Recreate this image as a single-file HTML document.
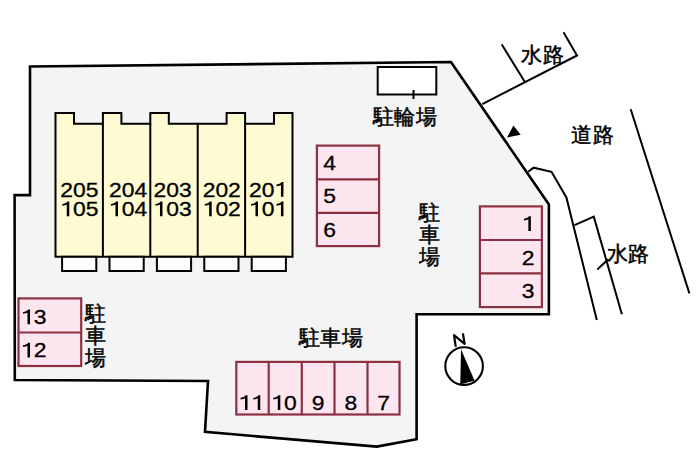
<!DOCTYPE html>
<html><head><meta charset="utf-8">
<style>
html,body{margin:0;padding:0;background:#fff;width:700px;height:466px;overflow:hidden}
svg{display:block}
text{font-family:"Liberation Sans",sans-serif;fill:#000}
.jp{font-size:21px;stroke:#000;stroke-width:0.5}
.n{font-size:21px;stroke:#000;stroke-width:0.3}
.one{fill:#000}
.pk{fill:#fde6f0;stroke:#8c3044;stroke-width:2.2}
.ln{stroke:#000;stroke-width:2;fill:none}
</style></head><body>
<svg width="700" height="466" viewBox="0 0 700 466">
<rect width="700" height="466" fill="#fff"/>
<polygon points="30,66.5 451,62 548.9,204.5 548.9,314.3 416.6,314.3 416.6,439.2 376.8,446.6 205,431.9 208,381 14.8,380 14.6,195.1 30,195.1" fill="#f4f4f4" stroke="#000" stroke-width="2.6" stroke-linejoin="miter"/>
<polyline class="ln" points="482.3,104.2 577,55.5 563.5,32.3"/>
<line class="ln" x1="501.7" y1="44.3" x2="524.9" y2="82"/>
<line class="ln" x1="630.7" y1="109.3" x2="689.4" y2="293.4"/>
<polyline class="ln" points="528.1,171.8 533.6,167.7 551.5,171.8 566.4,197.5 596.8,319.9"/>
<polyline class="ln" points="574.5,225.1 593.8,216.7 621.9,314.3"/>
<line class="ln" x1="597.3" y1="269.4" x2="608.2" y2="259.2" stroke-width="1.8"/>
<polygon points="513.4,125.5 507,137.5 520.7,134.7" fill="#000"/>
<rect x="377.7" y="67" width="58.6" height="27.5" style="fill:#fff;stroke:#000;stroke-width:2"/>
<line class="ln" x1="413.5" y1="90" x2="413.5" y2="99" stroke-width="1.5"/>
<path d="M55.5,256.8 V113 H74 V123.7 H102.9 V113 H121.4 V123.7 H150.3 V113 H168.8 V123.7 H197.7 H226.6 V113 H245.1 V123.7 H274 V113 H292.5 V256.8 Z" fill="#fefad2" stroke="#000" stroke-width="2"/>
<line x1="102.9" y1="123.7" x2="102.9" y2="256.8" stroke="#000" stroke-width="2"/>
<line x1="150.3" y1="123.7" x2="150.3" y2="256.8" stroke="#000" stroke-width="2"/>
<line x1="197.7" y1="123.7" x2="197.7" y2="256.8" stroke="#000" stroke-width="2"/>
<line x1="245.1" y1="123.7" x2="245.1" y2="256.8" stroke="#000" stroke-width="2"/>
<rect x="62.1" y="256.8" width="34.2" height="14.2" fill="#fff" stroke="#000" stroke-width="2"/>
<rect x="109.5" y="256.8" width="34.2" height="14.2" fill="#fff" stroke="#000" stroke-width="2"/>
<rect x="156.9" y="256.8" width="34.2" height="14.2" fill="#fff" stroke="#000" stroke-width="2"/>
<rect x="204.3" y="256.8" width="34.2" height="14.2" fill="#fff" stroke="#000" stroke-width="2"/>
<rect x="251.7" y="256.8" width="34.2" height="14.2" fill="#fff" stroke="#000" stroke-width="2"/>
<text class="n" transform="translate(60.25,196.8) scale(1.09,1)">2</text>
<text class="n" transform="translate(72.98,196.8) scale(1.09,1)">0</text>
<text class="n" transform="translate(85.72,196.8) scale(1.09,1)">5</text>
<path class="one" transform="translate(60.25,216.2) scale(22.89,21)" d="M0.395,0 V-0.70 H0.315 C0.27,-0.62 0.18,-0.585 0.09,-0.58 V-0.50 C0.17,-0.505 0.24,-0.525 0.285,-0.56 V0 Z"/>
<text class="n" transform="translate(72.98,216.2) scale(1.09,1)">0</text>
<text class="n" transform="translate(85.72,216.2) scale(1.09,1)">5</text>
<text class="n" transform="translate(108.95,196.8) scale(1.09,1)">2</text>
<text class="n" transform="translate(121.68,196.8) scale(1.09,1)">0</text>
<text class="n" transform="translate(134.42,196.8) scale(1.09,1)">4</text>
<path class="one" transform="translate(108.95,216.2) scale(22.89,21)" d="M0.395,0 V-0.70 H0.315 C0.27,-0.62 0.18,-0.585 0.09,-0.58 V-0.50 C0.17,-0.505 0.24,-0.525 0.285,-0.56 V0 Z"/>
<text class="n" transform="translate(121.68,216.2) scale(1.09,1)">0</text>
<text class="n" transform="translate(134.42,216.2) scale(1.09,1)">4</text>
<text class="n" transform="translate(153.45,196.8) scale(1.09,1)">2</text>
<text class="n" transform="translate(166.18,196.8) scale(1.09,1)">0</text>
<text class="n" transform="translate(178.92,196.8) scale(1.09,1)">3</text>
<path class="one" transform="translate(153.45,216.2) scale(22.89,21)" d="M0.395,0 V-0.70 H0.315 C0.27,-0.62 0.18,-0.585 0.09,-0.58 V-0.50 C0.17,-0.505 0.24,-0.525 0.285,-0.56 V0 Z"/>
<text class="n" transform="translate(166.18,216.2) scale(1.09,1)">0</text>
<text class="n" transform="translate(178.92,216.2) scale(1.09,1)">3</text>
<text class="n" transform="translate(202.65,196.8) scale(1.09,1)">2</text>
<text class="n" transform="translate(215.38,196.8) scale(1.09,1)">0</text>
<text class="n" transform="translate(228.12,196.8) scale(1.09,1)">2</text>
<path class="one" transform="translate(202.65,216.2) scale(22.89,21)" d="M0.395,0 V-0.70 H0.315 C0.27,-0.62 0.18,-0.585 0.09,-0.58 V-0.50 C0.17,-0.505 0.24,-0.525 0.285,-0.56 V0 Z"/>
<text class="n" transform="translate(215.38,216.2) scale(1.09,1)">0</text>
<text class="n" transform="translate(228.12,216.2) scale(1.09,1)">2</text>
<text class="n" transform="translate(248.95,196.8) scale(1.09,1)">2</text>
<text class="n" transform="translate(261.68,196.8) scale(1.09,1)">0</text>
<path class="one" transform="translate(274.42,196.8) scale(22.89,21)" d="M0.395,0 V-0.70 H0.315 C0.27,-0.62 0.18,-0.585 0.09,-0.58 V-0.50 C0.17,-0.505 0.24,-0.525 0.285,-0.56 V0 Z"/>
<path class="one" transform="translate(248.95,216.2) scale(22.89,21)" d="M0.395,0 V-0.70 H0.315 C0.27,-0.62 0.18,-0.585 0.09,-0.58 V-0.50 C0.17,-0.505 0.24,-0.525 0.285,-0.56 V0 Z"/>
<text class="n" transform="translate(261.68,216.2) scale(1.09,1)">0</text>
<path class="one" transform="translate(274.42,216.2) scale(22.89,21)" d="M0.395,0 V-0.70 H0.315 C0.27,-0.62 0.18,-0.585 0.09,-0.58 V-0.50 C0.17,-0.505 0.24,-0.525 0.285,-0.56 V0 Z"/>

<rect class="pk" x="316.9" y="145.6" width="62.2" height="100.5"/>
<line class="pk" x1="316.9" y1="179.3" x2="379.1" y2="179.3"/>
<line class="pk" x1="316.9" y1="212.8" x2="379.1" y2="212.8"/>
<text class="n" transform="translate(323.13,170.2) scale(1.09,1)">4</text>
<text class="n" transform="translate(323.13,203.1) scale(1.09,1)">5</text>
<text class="n" transform="translate(323.13,237.3) scale(1.09,1)">6</text>
<rect class="pk" x="479.9" y="206.4" width="62" height="100.7"/>
<line class="pk" x1="479.9" y1="240" x2="541.9" y2="240"/>
<line class="pk" x1="479.9" y1="273.4" x2="541.9" y2="273.4"/>
<path class="one" transform="translate(521.83,230.9) scale(22.89,21)" d="M0.395,0 V-0.70 H0.315 C0.27,-0.62 0.18,-0.585 0.09,-0.58 V-0.50 C0.17,-0.505 0.24,-0.525 0.285,-0.56 V0 Z"/>
<text class="n" transform="translate(521.83,264.7) scale(1.09,1)">2</text>
<text class="n" transform="translate(521.83,297.8) scale(1.09,1)">3</text>
<rect class="pk" x="18.5" y="298.4" width="62.7" height="67.6"/>
<line class="pk" x1="18.5" y1="332.5" x2="81.2" y2="332.5"/>
<path class="one" transform="translate(20.97,324.3) scale(22.89,21)" d="M0.395,0 V-0.70 H0.315 C0.27,-0.62 0.18,-0.585 0.09,-0.58 V-0.50 C0.17,-0.505 0.24,-0.525 0.285,-0.56 V0 Z"/>
<text class="n" transform="translate(33.7,324.3) scale(1.09,1)">3</text>
<path class="one" transform="translate(20.97,357.4) scale(22.89,21)" d="M0.395,0 V-0.70 H0.315 C0.27,-0.62 0.18,-0.585 0.09,-0.58 V-0.50 C0.17,-0.505 0.24,-0.525 0.285,-0.56 V0 Z"/>
<text class="n" transform="translate(33.7,357.4) scale(1.09,1)">2</text>
<rect class="pk" x="236.3" y="361.9" width="163.2" height="52.6"/>
<line class="pk" x1="268.7" y1="361.9" x2="268.7" y2="414.5"/>
<line class="pk" x1="301.8" y1="361.9" x2="301.8" y2="414.5"/>
<line class="pk" x1="334.5" y1="361.9" x2="334.5" y2="414.5"/>
<line class="pk" x1="367.5" y1="361.9" x2="367.5" y2="414.5"/>
<path class="one" transform="translate(238.47,410) scale(22.89,21)" d="M0.395,0 V-0.70 H0.315 C0.27,-0.62 0.18,-0.585 0.09,-0.58 V-0.50 C0.17,-0.505 0.24,-0.525 0.285,-0.56 V0 Z"/>
<path class="one" transform="translate(251.2,410) scale(22.89,21)" d="M0.395,0 V-0.70 H0.315 C0.27,-0.62 0.18,-0.585 0.09,-0.58 V-0.50 C0.17,-0.505 0.24,-0.525 0.285,-0.56 V0 Z"/>
<path class="one" transform="translate(271.27,410) scale(22.89,21)" d="M0.395,0 V-0.70 H0.315 C0.27,-0.62 0.18,-0.585 0.09,-0.58 V-0.50 C0.17,-0.505 0.24,-0.525 0.285,-0.56 V0 Z"/>
<text class="n" transform="translate(284,410) scale(1.09,1)">0</text>
<text class="n" transform="translate(311.83,410) scale(1.09,1)">9</text>
<text class="n" transform="translate(344.53,410) scale(1.09,1)">8</text>
<text class="n" transform="translate(377.23,410) scale(1.09,1)">7</text>

<text class="jp" x="372.6" y="123.6" letter-spacing="0.5">駐輪場</text>
<text class="jp" x="298.5" y="345.2" letter-spacing="0.7">駐車場</text>
<text class="jp" x="521" y="61.6" letter-spacing="1">水路</text>
<text class="jp" x="571.3" y="141.7" letter-spacing="1">道路</text>
<text class="jp" x="606.6" y="261.4">水路</text>
<text class="jp" x="418.8" y="220">駐</text>
<text class="jp" x="418.8" y="242">車</text>
<text class="jp" x="418.8" y="264">場</text>
<text class="jp" x="85" y="321">駐</text>
<text class="jp" x="85" y="343">車</text>
<text class="jp" x="85" y="365">場</text>
<circle cx="464.1" cy="366.1" r="18.8" fill="#fff" stroke="#000" stroke-width="2.1"/>
<polygon points="461,349.3 460.3,384.2 474.6,380.8" fill="#000"/>
<polyline points="455.6,345.8 454,335.2 464.6,343.9 463.1,334.4" fill="none" stroke="#000" stroke-width="2.2" stroke-linejoin="round" stroke-linecap="square"/>
</svg>
</body></html>
